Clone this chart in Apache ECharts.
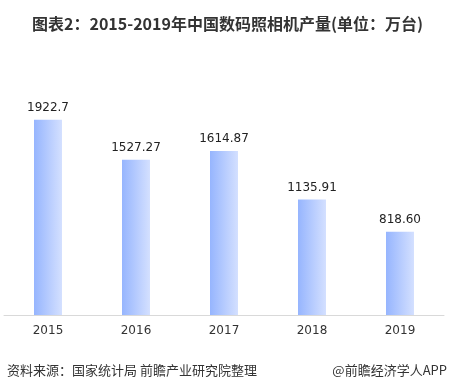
<!DOCTYPE html>
<html>
<head>
<meta charset="utf-8">
<script src="https://cdn.jsdelivr.net/npm/echarts@6/dist/echarts.min.js"></script>
<style>
html,body{margin:0;padding:0;background:#fff;}
#main{width:455px;height:391px;}
</style>
</head>
<body>
<div id="main"></div>
<script>
var categories = ['2015', '2016', '2017', '2018', '2019'];
var values = [1922.7, 1527.27, 1614.87, 1135.91, 818.60];
var valueLabels = ['1922.7', '1527.27', '1614.87', '1135.91', '818.60'];
var titleText = '图表2：2015-2019年中国数码照相机产量(单位：万台)';
var sourceText = '资料来源：国家统计局 前瞻产业研究院整理';
var brandText = '@前瞻经济学人APP';

var chart = echarts.init(document.getElementById('main'), null, {renderer: 'canvas'});
var font = '"Microsoft YaHei", "Noto Sans CJK SC", sans-serif';
chart.setOption({
  backgroundColor: '#fff',
  animation: false,
  title: {
    text: titleText,
    left: 'center',
    top: 11,
    textStyle: {fontSize: 16, fontWeight: 'bold', color: '#333', fontFamily: font}
  },
  grid: {left: 4, right: 11, top: 61, bottom: 76, containLabel: false},
  xAxis: {
    type: 'category',
    data: categories,
    axisLine: {lineStyle: {color: '#d9d9d9', width: 1}},
    axisTick: {show: false},
    axisLabel: {color: '#333', fontSize: 12, margin: 10, fontFamily: 'Verdana, "DejaVu Sans", sans-serif'}
  },
  yAxis: {
    type: 'value',
    min: 0,
    max: 2500,
    show: false,
    splitLine: {show: false}
  },
  series: [{
    type: 'bar',
    data: values,
    barWidth: 28,
    itemStyle: {
      color: new echarts.graphic.LinearGradient(0, 0, 1, 0, [
        {offset: 0, color: '#96b5fe'},
        {offset: 1, color: '#d4e0ff'}
      ])
    },
    label: {
      show: true,
      position: 'top',
      distance: 6,
      color: '#222',
      fontSize: 12,
      fontFamily: 'Verdana, "DejaVu Sans", sans-serif',
      formatter: function (p) { return valueLabels[p.dataIndex]; }
    }
  }],
  graphic: [
    {type: 'text', left: 7, top: 364, style: {text: sourceText, fill: '#333', fontSize: 13, fontFamily: font}},
    {type: 'text', right: 8, top: 364, style: {text: brandText, fill: '#333', fontSize: 13, fontFamily: font}}
  ]
});
</script>
</body>
</html>
